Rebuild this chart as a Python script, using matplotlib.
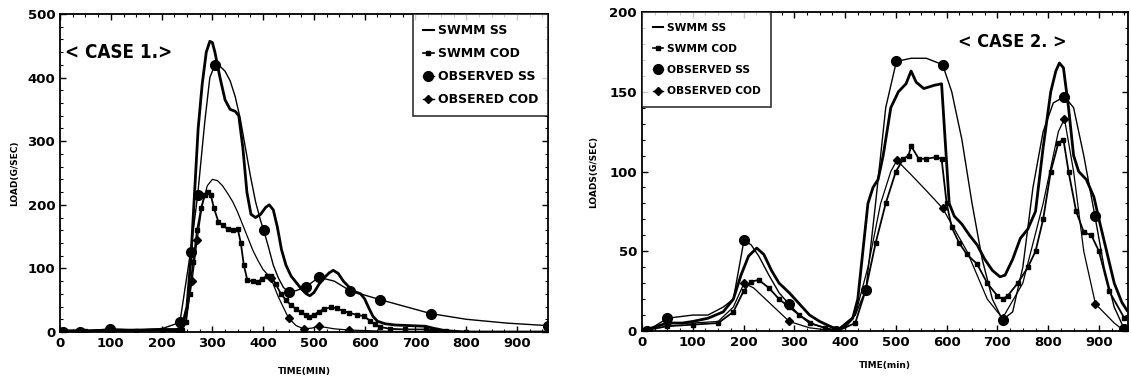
import matplotlib.pyplot as plt
from matplotlib.ticker import MultipleLocator
from matplotlib.lines import Line2D

# ---------------- CASE 1 data ----------------
# SWMM SS (thick line)
c1_swmm_ss_x = [0, 50, 100, 150, 200, 230, 240, 250, 258, 265, 272, 280, 288, 295, 300, 305, 315, 325, 335,
                345, 352, 360, 368, 376, 385, 395, 405, 412, 420, 428, 436, 445, 455, 465, 475, 485, 492, 500,
                510, 520, 530, 538, 548, 558, 570, 582, 592, 600, 608, 616, 625, 640, 660, 690, 720, 740, 760,
                800, 961]
c1_swmm_ss_y = [2, 2, 3, 3, 4, 4, 8, 40, 120, 220, 320, 390, 440, 457, 455, 440, 400, 365, 350, 347, 340,
                290, 220, 185, 180, 185, 196, 200, 192, 165, 130, 105, 88, 78, 68, 60, 57, 62, 75, 85, 93, 97,
                92, 80, 70, 63, 60, 52, 38, 25, 17, 13, 11, 10, 9, 5, 2, 0, 0]

# SWMM COD (line with small markers)
c1_swmm_cod_x = [0, 50, 100, 150, 200, 240, 248, 255, 262, 270, 278, 285, 291, 297, 303, 312, 320, 330, 341,
                 350, 356, 362, 369, 380, 390, 398, 408, 416, 425, 435, 445, 455, 465, 475, 485, 491, 500, 510,
                 520, 534, 545, 558, 570, 585, 598, 610, 620, 630, 650, 680, 720, 740, 760, 800, 961]
c1_swmm_cod_y = [1, 1, 2, 2, 3, 3, 15, 60, 110, 160, 195, 215, 220, 215, 195, 173, 168, 162, 160, 162, 140,
                 105, 81, 80, 79, 84, 88, 88, 75, 60, 50, 42, 36, 31, 26, 24, 27, 32, 36, 39, 37, 33, 30, 27,
                 25, 18, 12, 8, 5, 4, 4, 3, 1, 0, 0]

# OBSERVED SS (thin line, big circles at observations)
c1_obs_ss_x = [6, 39, 98, 150, 200, 236, 257, 271, 285, 295, 305, 315, 325, 335, 345, 355, 365, 375, 385,
               395, 401, 410, 420, 430, 440, 450, 465, 484, 510, 540, 571, 600, 630, 680, 730, 800, 880, 961]
c1_obs_ss_y = [0, 0, 5, 3, 5, 15, 126, 215, 330, 400, 420, 418, 410, 395, 370, 335, 290, 245, 205, 175, 160,
               135, 105, 85, 70, 63, 65, 71, 86, 80, 65, 58, 51, 40, 29, 20, 14, 10]
c1_obs_ss_mark = [0, 1, 2, 5, 6, 7, 10, 20, 25, 27, 28, 30, 32, 34, 37]

# OBSERED COD (thin line, diamonds at observations)
c1_obs_cod_x = [6, 39, 98, 200, 236, 250, 260, 270, 280, 290, 300, 310, 320, 330, 340, 350, 360, 370, 380,
                390, 400, 415, 430, 450, 465, 480, 495, 510, 540, 570, 650, 730, 961]
c1_obs_cod_y = [0, 0, 3, 2, 0, 30, 80, 145, 200, 230, 240, 238, 230, 218, 205, 188, 168, 148, 128, 112, 98,
                85, 55, 22, 10, 5, 6, 9, 5, 3, 1, 0, 0]
c1_obs_cod_mark = [0, 1, 2, 4, 6, 7, 21, 23, 25, 27, 29, 31, 32]

# ---------------- CASE 2 data ----------------
c2_swmm_ss_x = [0, 20, 50, 80, 100, 130, 160, 180, 195, 210, 226, 240, 255, 270, 290, 310, 330, 350, 370,
                385, 400, 415, 425, 435, 445, 455, 465, 475, 490, 505, 520, 530, 540, 555, 575, 590, 597, 605,
                615, 630, 645, 660, 675, 690, 705, 715, 730, 745, 760, 775, 790, 805, 815, 822, 830, 840, 850,
                860, 875, 890, 900, 915, 930, 945, 955]
c2_swmm_ss_y = [0, 2, 5, 5, 6, 8, 12, 20, 35, 47, 52, 48, 38, 30, 24, 17, 10, 6, 3, 1, 3, 8, 20, 50, 80, 90,
                95, 110, 140, 150, 155, 163, 156, 152, 154, 155, 120, 80, 72, 67, 60, 54, 45, 38, 34, 35, 45,
                58, 64, 75, 115, 150, 163, 168, 165, 140, 110, 100, 95, 84, 70, 50, 30, 18, 13]

c2_swmm_cod_x = [0, 50, 100, 150, 180, 200, 215, 230, 250, 270, 290, 310, 330, 360, 385, 420, 440, 460, 480,
                 500, 515, 525, 530, 545, 560, 580, 590, 600, 610, 625, 640, 660, 680, 700, 710, 720, 740, 760,
                 775, 790, 805, 820, 830, 840, 855, 870, 885, 900, 920, 950]
c2_swmm_cod_y = [0, 3, 4, 5, 12, 25, 31, 32, 27, 20, 15, 10, 5, 2, 0, 5, 25, 55, 80, 100, 108, 110, 116, 108,
                 108, 109, 108, 80, 65, 55, 48, 42, 30, 22, 20, 22, 30, 40, 50, 70, 100, 118, 120, 100, 75, 62,
                 60, 50, 25, 8]

c2_obs_ss_x = [10, 50, 100, 130, 160, 180, 201, 215, 230, 250, 270, 289, 310, 340, 382, 420, 441, 460, 480,
               501, 530, 560, 592, 610, 630, 650, 670, 690, 710, 730, 750, 770, 790, 810, 832, 850, 870, 892,
               910, 930, 950]
c2_obs_ss_y = [0, 8, 10, 10, 15, 20, 57, 54, 47, 35, 24, 17, 10, 4, 0, 10, 26, 80, 140, 169, 171, 171, 167,
               150, 120, 80, 45, 20, 7, 12, 40, 90, 125, 143, 147, 140, 110, 72, 40, 15, 1]
c2_obs_ss_mark = [0, 1, 6, 11, 14, 16, 19, 22, 28, 34, 37, 40]

c2_obs_cod_x = [10, 50, 100, 150, 180, 201, 220, 250, 290, 330, 382, 420, 445, 470, 490, 502, 530, 560, 592,
                640, 680, 710, 750, 790, 820, 832, 850, 870, 893, 930, 950]
c2_obs_cod_y = [0, 5, 5, 6, 15, 30, 27, 18, 6, 2, 0, 10, 40, 80, 100, 107, 98, 88, 77, 50, 20, 8, 30, 80,
                125, 133, 100, 50, 17, 5, 0]
c2_obs_cod_mark = [0, 1, 5, 8, 10, 15, 18, 21, 25, 28, 30]

legend_c1 = ["SWMM SS", "SWMM COD", "OBSERVED SS", "OBSERED COD"]
legend_c2 = ["SWMM SS", "SWMM COD", "OBSERVED SS", "OBSERVED COD"]

plt.rcParams['font.family'] = ['DejaVu Sans']

fig = plt.figure(figsize=(11.31, 3.81), dpi=100)
ax1 = fig.add_axes([0.0531, 0.1286, 0.4314, 0.8347])
ax2 = fig.add_axes([0.5676, 0.1312, 0.4297, 0.8373])


def draw_case(ax, ss_x, ss_y, cod_x, cod_y, oss_x, oss_y, oss_m, ocod_x, ocod_y, ocod_m):
    ax.plot(ss_x, ss_y, color='black', lw=2.0)
    ax.plot(cod_x, cod_y, color='black', lw=1.3, marker='s', markersize=2.2)
    ax.plot(oss_x, oss_y, color='black', lw=1.0, marker='o', markersize=7, markevery=oss_m)
    ax.plot(ocod_x, ocod_y, color='black', lw=0.9, marker='D', markersize=4.5, markevery=ocod_m)


draw_case(ax1, c1_swmm_ss_x, c1_swmm_ss_y, c1_swmm_cod_x, c1_swmm_cod_y,
          c1_obs_ss_x, c1_obs_ss_y, c1_obs_ss_mark, c1_obs_cod_x, c1_obs_cod_y, c1_obs_cod_mark)
draw_case(ax2, c2_swmm_ss_x, c2_swmm_ss_y, c2_swmm_cod_x, c2_swmm_cod_y,
          c2_obs_ss_x, c2_obs_ss_y, c2_obs_ss_mark, c2_obs_cod_x, c2_obs_cod_y, c2_obs_cod_mark)

# axes setup
ax1.set_xlim(0, 961)
ax1.set_ylim(0, 500)
ax1.yaxis.set_major_locator(MultipleLocator(100))
ax1.yaxis.set_minor_locator(MultipleLocator(20))

ax2.set_xlim(0, 957)
ax2.set_ylim(0, 200)
ax2.yaxis.set_major_locator(MultipleLocator(50))
ax2.yaxis.set_minor_locator(MultipleLocator(10))

for ax in (ax1, ax2):
    ax.xaxis.set_major_locator(MultipleLocator(100))
    ax.xaxis.set_minor_locator(MultipleLocator(25))
    ax.tick_params(which='both', direction='in', top=True, right=True, labelsize=9.5)
    ax.tick_params(which='major', length=4, width=1)
    ax.tick_params(which='minor', length=2, width=0.8)
    for sp in ax.spines.values():
        sp.set_linewidth(1.3)
    for lbl in ax.get_xticklabels() + ax.get_yticklabels():
        lbl.set_fontweight('semibold')

ax1.set_ylabel("LOAD(G/SEC)", fontsize=6.5, fontweight='bold', labelpad=6)
ax1.set_xlabel("TIME(MIN)", fontsize=6.5, fontweight='bold', labelpad=12)
ax2.set_ylabel("LOADS(G/SEC)", fontsize=6.5, fontweight='bold', labelpad=8)
ax2.set_xlabel("TIME(min)", fontsize=6.5, fontweight='bold', labelpad=9)

# case titles (narrow, tall lettering)
ax1.text(116, 439, "< CASE 1.>", fontsize=13.5, fontweight='bold', ha='center', va='center',
         family='DejaVu Sans', fontstretch='condensed')
ax2.text(730, 181, "< CASE 2. >", fontsize=13, fontweight='bold', ha='center', va='center',
         family='DejaVu Sans', fontstretch='condensed')

# legends
handles = [Line2D([], [], color='black', lw=1.5),
           Line2D([], [], color='black', lw=1.2, marker='s', markersize=2.5),
           Line2D([], [], color='black', lw=1.0, marker='o', markersize=7),
           Line2D([], [], color='black', lw=1.0, marker='D', markersize=4.5)]

leg1 = ax1.legend(handles, legend_c1, loc='upper right', borderaxespad=0, fancybox=False,
                  handlelength=0.9, handletextpad=0.3, labelspacing=0.8, borderpad=0.8,
                  prop={'size': 9, 'weight': 'bold'})
leg1.get_frame().set_edgecolor('black')
leg1.get_frame().set_linewidth(1.2)

leg2 = ax2.legend(handles, legend_c2, loc='upper left', borderaxespad=0, fancybox=False,
                  handlelength=1.0, handletextpad=0.3, labelspacing=1.05, borderpad=1.0,
                  prop={'size': 7.7, 'weight': 'bold'})
leg2.get_frame().set_edgecolor('black')
leg2.get_frame().set_linewidth(1.2)

fig.savefig("out.png", dpi=100)
